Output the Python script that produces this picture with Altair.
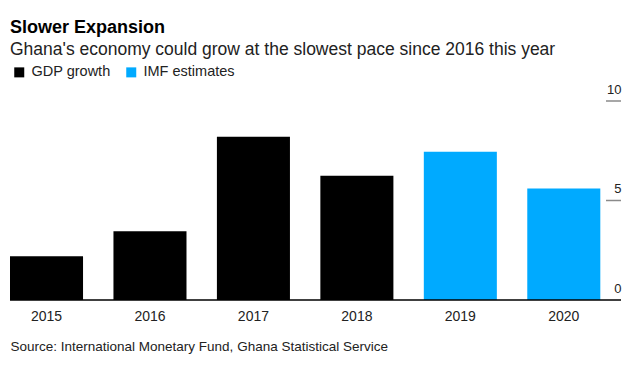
import altair as alt
import pandas as pd

years = ["2015", "2016", "2017", "2018", "2019", "2020"]
growth = [2.2, 3.45, 8.2, 6.25, 7.45, 5.6]
series = ["GDP growth", "GDP growth", "GDP growth", "GDP growth", "IMF estimates", "IMF estimates"]
legend_names = ["GDP growth", "IMF estimates"]
legend_colors = ["#000000", "#00aaff"]
y_ticks = [0, 5, 10]
tick_marks = [5, 10]

W = 611
H = 199
FONT = "Liberation Sans"

df = pd.DataFrame({"year": years, "growth": growth, "series": series})
ticks_df = pd.DataFrame({"v": tick_marks})

bars = alt.Chart(df).mark_bar().encode(
    x=alt.X(
        "year:N",
        sort=years,
        scale=alt.Scale(paddingInner=0.294, paddingOuter=0.1, align=0),
        axis=alt.Axis(
            title="Source: International Monetary Fund, Ghana Statistical Service",
            titleFont=FONT,
            titleFontSize=13.5,
            titleFontWeight="normal",
            titleColor="#222222",
            titleAnchor="start",
            titleAlign="left",
            titleBaseline="alphabetic",
            titleX=0,
            titleY=50,
            labelAngle=0,
            labelFont=FONT,
            labelFontSize=14,
            labelColor="#222222",
            labelPadding=9,
            ticks=False,
            tickSize=0,
            domain=False,
            grid=False,
        ),
    ),
    y=alt.Y(
        "growth:Q",
        scale=alt.Scale(domain=[0, 10], nice=False),
        axis=alt.Axis(
            orient="right",
            title=None,
            values=y_ticks,
            domain=False,
            ticks=False,
            tickSize=0,
            grid=False,
            labelAlign="right",
            labelBaseline="alphabetic",
            labelPadding=0,
            labelOffset=-8,
            labelFont=FONT,
            labelFontSize=13,
            labelColor="#222222",
        ),
    ),
    color=alt.Color(
        "series:N",
        scale=alt.Scale(domain=legend_names, range=legend_colors),
        legend=alt.Legend(
            title=None,
            orient="none",
            direction="horizontal",
            legendX=2,
            legendY=-36,
            symbolType="square",
            symbolSize=100,
            symbolStrokeWidth=0,
            symbolOpacity=1,
            labelFont=FONT,
            labelFontSize=14.5,
            labelColor="#222222",
            labelOffset=5,
            columnPadding=13,
        ),
    ),
)

tick_rules = alt.Chart(ticks_df).mark_rule(color="#8a8a8a", strokeWidth=1.5).encode(
    y=alt.Y("v:Q"),
    x=alt.value(W - 15),
    x2=alt.value(W),
)

baseline = alt.Chart(pd.DataFrame({"v": [0]})).mark_rule(color="#000000", strokeWidth=1.5).encode(
    y=alt.Y("v:Q")
)

chart = alt.layer(bars, tick_rules, baseline).properties(
    width=W,
    height=H,
    background="white",
    autosize=alt.AutoSizeParams(type="none"),
    padding={"left": 2, "top": 93, "right": 8, "bottom": 62},
    title=alt.TitleParams(
        text="Slower Expansion",
        subtitle="Ghana's economy could grow at the slowest pace since 2016 this year",
        anchor="start",
        frame="group",
        font=FONT,
        fontSize=18,
        fontWeight="bold",
        color="#000000",
        subtitleFont=FONT,
        subtitleFontSize=17.5,
        subtitleColor="#222222",
        subtitlePadding=4,
        offset=7,
    ),
).configure_view(stroke="transparent", strokeWidth=0)

chart.save("out.html", embed_options={"renderer": "svg", "actions": False})
